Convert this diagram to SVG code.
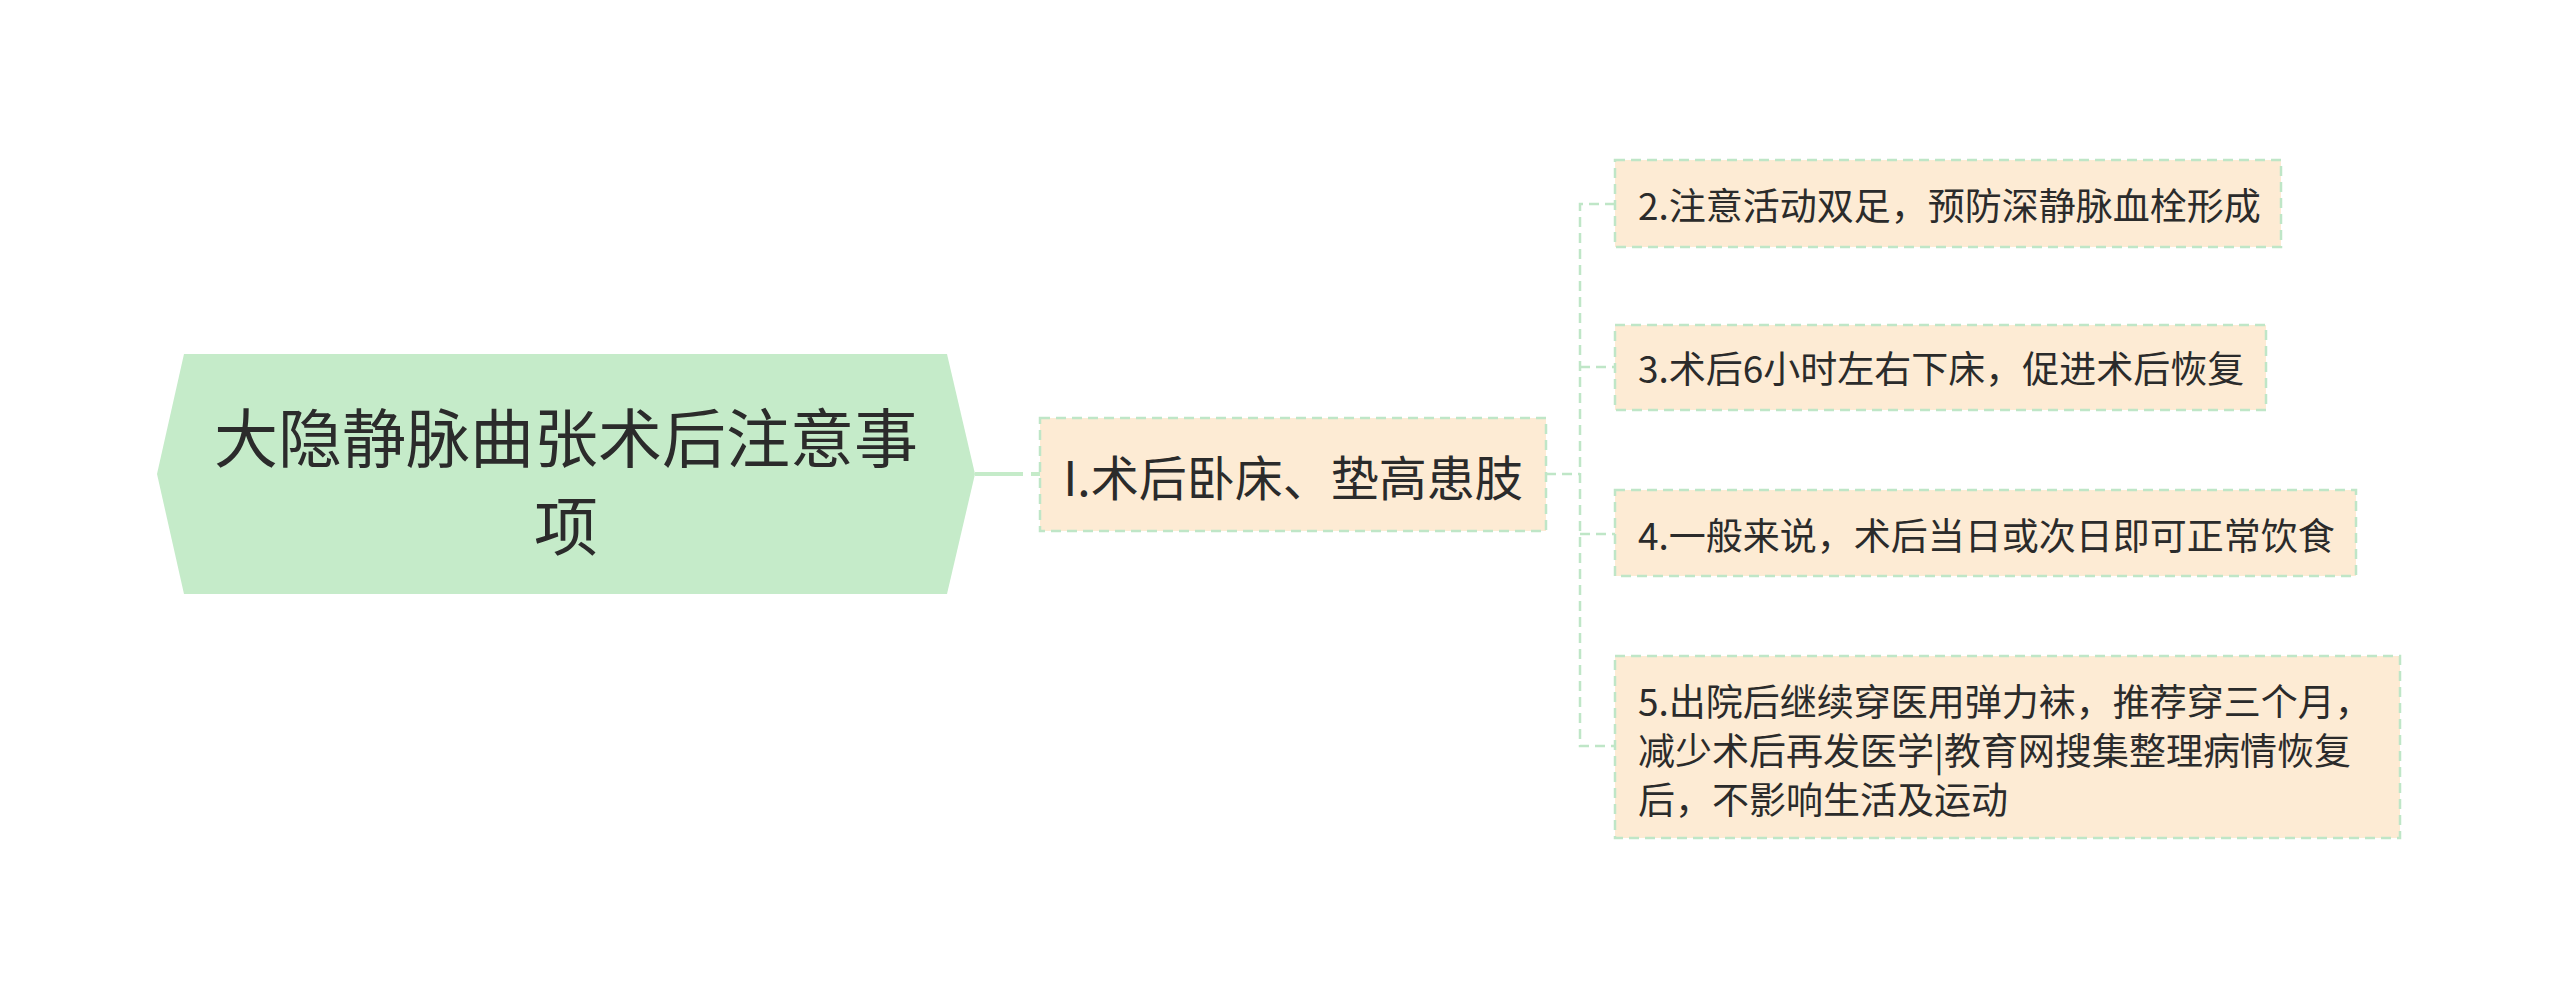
<svg xmlns="http://www.w3.org/2000/svg" width="2560" height="998" viewBox="0 0 2560 998">
<style>
.t{font-family:"Noto Sans CJK SC","Microsoft YaHei",sans-serif;fill:#2b2b2b;dominant-baseline:central}
.box{fill:#fdebd4;stroke:#bfe6c7;stroke-width:2.5;stroke-dasharray:10 6}
.ln{fill:none;stroke:#bfe6c7;stroke-width:2.5;stroke-dasharray:10 6}
</style>
<rect width="2560" height="998" fill="#ffffff"/>
<g id="connectors">
<path d="M975 474 H1023" fill="none" stroke="#c5ebc9" stroke-width="4"/>
<path d="M1031 474 H1040" fill="none" stroke="#c5ebc9" stroke-width="4"/>
<path class="ln" d="M1546 474 H1580"/>
<path class="ln" d="M1615 204 H1580 V746 H1615"/>
<path class="ln" d="M1580 367 H1615"/>
<path class="ln" d="M1580 534 H1615"/>
</g>
<g id="root">
<polygon points="184,354 947,354 975,474 947,594 184,594 157,474" fill="#c5ebc9"/>
<text class="t" x="566" y="434" font-size="64" text-anchor="middle">大隐静脉曲张术后注意事</text>
<text class="t" x="566" y="522" font-size="64" text-anchor="middle">项</text>
</g>
<g id="n1">
<rect class="box" x="1040" y="418" width="506" height="113"/>
<text class="t" x="1293" y="475" font-size="48" text-anchor="middle">I.术后卧床、垫高患肢</text>
</g>
<g id="n2">
<rect class="box" x="1615" y="160" width="666" height="87"/>
<text class="t" x="1638" y="204" font-size="37">2.注意活动双足，预防深静脉血栓形成</text>
</g>
<g id="n3">
<rect class="box" x="1615" y="325" width="651" height="85"/>
<text class="t" x="1638" y="367" font-size="37">3.术后6小时左右下床，促进术后恢复</text>
</g>
<g id="n4">
<rect class="box" x="1615" y="490" width="741" height="86"/>
<text class="t" x="1638" y="534" font-size="37">4.一般来说，术后当日或次日即可正常饮食</text>
</g>
<g id="n5">
<rect class="box" x="1615" y="656" width="785" height="182"/>
<text class="t" x="1638" y="700" font-size="37">5.出院后继续穿医用弹力袜，推荐穿三个月，</text>
<text class="t" x="1638" y="749" font-size="37">减少术后再发医学|教育网搜集整理病情恢复</text>
<text class="t" x="1638" y="798" font-size="37">后，不影响生活及运动</text>
</g>
</svg>
